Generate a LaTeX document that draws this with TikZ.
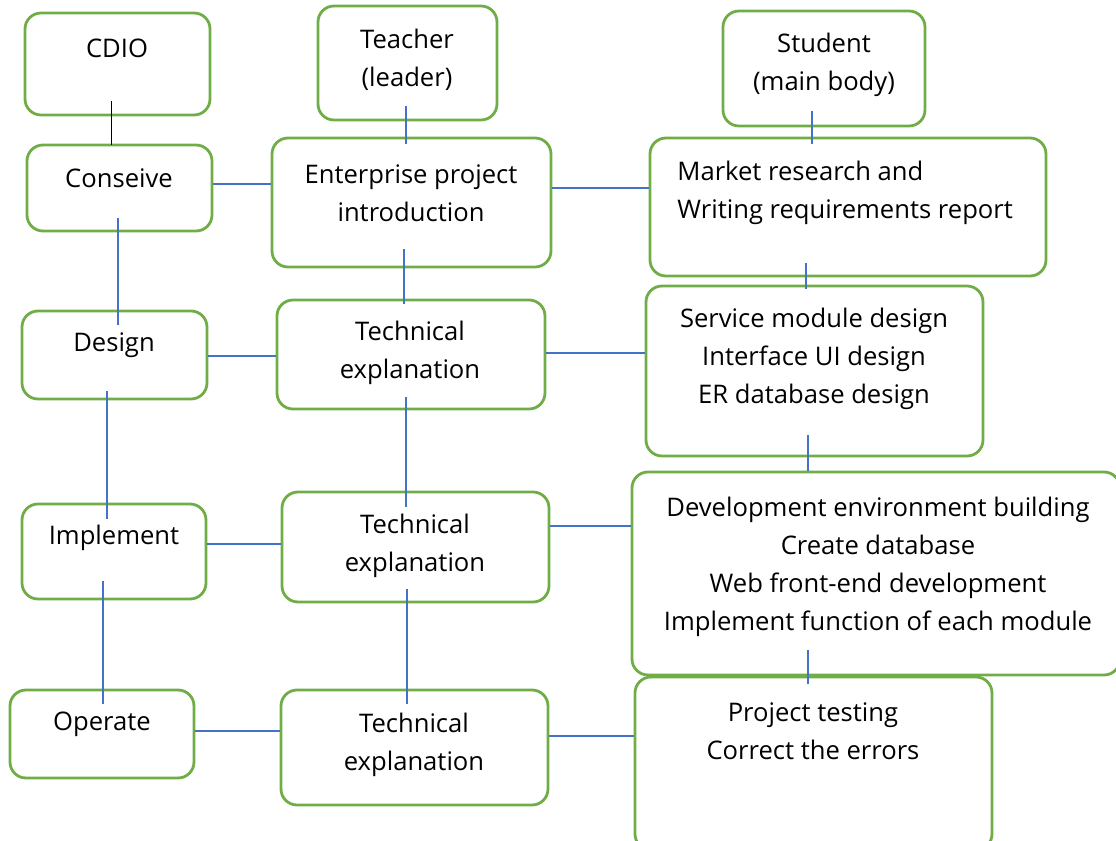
\documentclass[tikz,border=0pt]{standalone}
\usepackage{fontspec}
\setmainfont{Open Sans}
\usepackage{tikz}

\definecolor{boxgreen}{RGB}{112,173,71}
\definecolor{tieblue}{RGB}{68,114,196}

\tikzset{
  box/.style={draw=boxgreen, line width=1.4pt, rounded corners=8pt},
  txt/.style={align=center, font=\fontsize{12.8}{19}\selectfont, inner sep=0pt},
  tie/.style={draw=tieblue, line width=0.6pt},
}

\begin{document}
\begin{tikzpicture}[x=0.5pt, y=-0.5pt]
        \useasboundingbox (0, 0) rectangle (1116, 841);

        % top row
        \draw (117.5, 64) node[box, minimum width=92.5pt, minimum height=51pt] (cdio) {}
              (117, 48) node[txt] (cdio-t) {CDIO};
        \draw (407.5, 63) node[box, minimum width=89.5pt, minimum height=57pt] (teacher) {}
              (407, 60) node[txt] (teacher-t) {Teacher\\(leader)};
        \draw (824, 68.5) node[box, minimum width=101pt, minimum height=57.5pt] (student) {}
              (824, 65) node[txt] (student-t) {Student\\(main body)};

        % conseive
        \draw (119.5, 188) node[box, minimum width=92.5pt, minimum height=43pt] (conseive) {}
              (119, 178) node[txt] (conseive-t) {Conseive};
        \draw (411.5, 202.5) node[box, minimum width=139.5pt, minimum height=64.5pt] (enterprise) {}
              (411, 193) node[txt] (enterprise-t) {Enterprise project\\introduction};
        \draw (848, 207) node[box, minimum width=198pt, minimum height=69pt] (market) {}
              (677, 193) node[txt, anchor=west, align=left] (market-t) {Market research and\\Writing requirements report};

        % design
        \draw (114.5, 355) node[box, minimum width=92.5pt, minimum height=44pt] (design) {}
              (114, 345) node[txt] (design-t) {Design};
        \draw (411, 354.5) node[box, minimum width=134pt, minimum height=54.5pt] (tech1) {}
              (410, 353) node[txt] (tech1-t) {Technical\\explanation};
        \draw (814.5, 371) node[box, minimum width=168.5pt, minimum height=85pt] (service) {}
              (814, 359) node[txt] (service-t) {Service module design\\Interface UI design\\ER database design};

        % implement
        \draw (114, 551.5) node[box, minimum width=92pt, minimum height=47.5pt] (implement) {}
              (114, 538) node[txt] (implement-t) {Implement};
        \draw (415.5, 547) node[box, minimum width=133.5pt, minimum height=55pt] (tech2) {}
              (415, 546) node[txt] (tech2-t) {Technical\\explanation};
        \draw (876, 573.5) node[box, minimum width=244pt, minimum height=101.5pt] (dev) {}
              (878, 567) node[txt] (dev-t) {Development environment building\\Create database\\Web front-end development\\Implement function of each module};

        % operate
        \draw (102, 734) node[box, minimum width=92pt, minimum height=44pt] (operate) {}
              (102, 724) node[txt] (operate-t) {Operate};
        \draw (414.5, 747.5) node[box, minimum width=133.5pt, minimum height=57.5pt] (tech3) {}
              (414, 745) node[txt] (tech3-t) {Technical\\explanation};
        \draw (813.5, 763.5) node[box, minimum width=178.5pt, minimum height=86.5pt] (testing) {}
              (813, 731) node[txt] (testing-t) {Project testing\\Correct the errors};

        % vertical ties
        \draw ([xshift=-3pt, yshift=7.5pt]cdio.south) -- ([xshift=-4pt, yshift=-0.5pt]conseive.north);
        \draw[tie] ([xshift=-0.75pt, yshift=7.5pt]teacher.south) -- ([xshift=-2.75pt, yshift=-3.5pt]enterprise.north);
        \draw[tie] ([xshift=-6pt, yshift=8pt]student.south) -- ([xshift=-18pt, yshift=-3.5pt]market.north);
        \draw[tie] ([xshift=-0.75pt, yshift=7pt]conseive.south) -- ([xshift=1.75pt, yshift=-7.5pt]design.north);
        \draw[tie] ([xshift=-3.75pt, yshift=9.5pt]enterprise.south) -- ([xshift=-3.5pt, yshift=-2.5pt]tech1.north);
        \draw[tie] ([xshift=-21pt, yshift=7pt]market.south) -- ([xshift=-4.25pt, yshift=-2pt]service.north);
        \draw[tie] ([xshift=-3.75pt, yshift=4.5pt]design.south) -- ([xshift=-3.5pt, yshift=-8pt]implement.north);
        \draw[tie] ([xshift=-2.5pt, yshift=6.5pt]tech1.south) -- ([xshift=-4.75pt, yshift=-8pt]tech2.north);
        \draw[tie] ([xshift=-3.25pt, yshift=11pt]service.south) -- ([xshift=-34pt]dev.north);
        \draw[tie] ([xshift=-5.5pt, yshift=9.5pt]implement.south) -- ([xshift=0.5pt, yshift=-7.5pt]operate.north);
        \draw[tie] ([xshift=-4.25pt, yshift=7pt]tech2.south) -- ([xshift=-3.75pt, yshift=-7.5pt]tech3.north);
        \draw[tie] ([xshift=-34pt, yshift=13pt]dev.south) -- ([xshift=-2.75pt, yshift=-4pt]testing.north);

        % horizontal ties
        \draw[tie] ([yshift=2pt]conseive.east) -- ([yshift=9.25pt]enterprise.west);
        \draw[tie] ([yshift=7.25pt]enterprise.east) -- ([yshift=9.5pt]market.west);
        \draw[tie] ([yshift=-0.5pt]design.east) -- ([yshift=-0.75pt]tech1.west);
        \draw[tie] ([yshift=0.75pt]tech1.east) -- ([yshift=9pt]service.west);
        \draw[tie] ([yshift=3.75pt]implement.east) -- ([yshift=1.5pt]tech2.west);
        \draw[tie] ([yshift=10.5pt]tech2.east) -- ([yshift=23.75pt]dev.west);
        \draw[tie] ([yshift=1.5pt]operate.east) -- ([yshift=8.25pt]tech3.west);
        \draw[tie] ([yshift=5.75pt]tech3.east) -- ([yshift=13.75pt]testing.west);
    \end{tikzpicture}
\end{document}
